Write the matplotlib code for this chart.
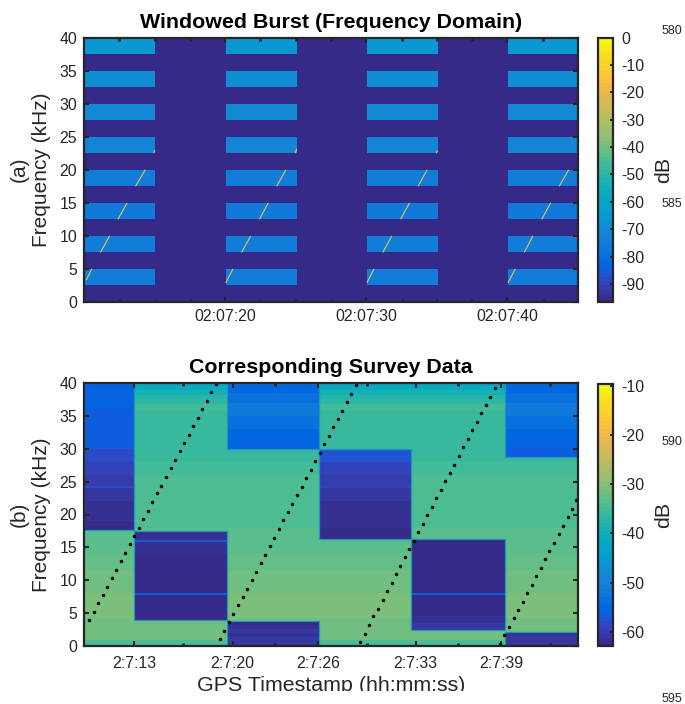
#!/usr/bin/env python3
"""
Windowed burst spectrogram and the matching survey data, two panels on one page
"""

import matplotlib
matplotlib.use('Agg')
import matplotlib.pyplot as plt
from matplotlib.colors import ListedColormap, Normalize
from matplotlib.cm import ScalarMappable
from matplotlib.patches import Rectangle
from matplotlib.ticker import FixedLocator, NullFormatter

plt.rcParams['font.family'] = ['Liberation Sans', 'DejaVu Sans']
plt.rcParams['axes.unicode_minus'] = False

# parula
parula_rgb = [
    [0.2081, 0.1663, 0.5292], [0.2116, 0.1898, 0.5777], [0.2123, 0.2138, 0.6270], [0.2081, 0.2386, 0.6771],
    [0.1959, 0.2645, 0.7279], [0.1707, 0.2919, 0.7792], [0.1253, 0.3242, 0.8303], [0.0591, 0.3598, 0.8683],
    [0.0117, 0.3875, 0.8820], [0.0060, 0.4086, 0.8828], [0.0165, 0.4266, 0.8786], [0.0329, 0.4430, 0.8720],
    [0.0498, 0.4586, 0.8641], [0.0629, 0.4737, 0.8554], [0.0723, 0.4887, 0.8467], [0.0779, 0.5040, 0.8384],
    [0.0793, 0.5200, 0.8312], [0.0749, 0.5375, 0.8263], [0.0641, 0.5570, 0.8240], [0.0488, 0.5772, 0.8228],
    [0.0343, 0.5966, 0.8199], [0.0265, 0.6137, 0.8135], [0.0239, 0.6287, 0.8038], [0.0231, 0.6418, 0.7913],
    [0.0228, 0.6535, 0.7768], [0.0267, 0.6642, 0.7607], [0.0384, 0.6743, 0.7436], [0.0590, 0.6838, 0.7254],
    [0.0843, 0.6928, 0.7062], [0.1133, 0.7015, 0.6859], [0.1453, 0.7098, 0.6646], [0.1801, 0.7177, 0.6424],
    [0.2178, 0.7250, 0.6193], [0.2586, 0.7317, 0.5954], [0.3022, 0.7376, 0.5712], [0.3482, 0.7424, 0.5473],
    [0.3953, 0.7459, 0.5244], [0.4420, 0.7481, 0.5033], [0.4871, 0.7491, 0.4840], [0.5300, 0.7491, 0.4661],
    [0.5709, 0.7485, 0.4494], [0.6099, 0.7473, 0.4337], [0.6473, 0.7456, 0.4188], [0.6834, 0.7435, 0.4044],
    [0.7184, 0.7411, 0.3905], [0.7525, 0.7384, 0.3768], [0.7858, 0.7356, 0.3633], [0.8185, 0.7327, 0.3498],
    [0.8507, 0.7299, 0.3360], [0.8824, 0.7274, 0.3217], [0.9139, 0.7258, 0.3063], [0.9450, 0.7261, 0.2886],
    [0.9739, 0.7314, 0.2666], [0.9938, 0.7455, 0.2403], [0.9990, 0.7653, 0.2164], [0.9955, 0.7861, 0.1967],
    [0.9880, 0.8066, 0.1794], [0.9789, 0.8271, 0.1633], [0.9697, 0.8481, 0.1475], [0.9626, 0.8705, 0.1309],
    [0.9589, 0.8949, 0.1132], [0.9598, 0.9218, 0.0948], [0.9661, 0.9514, 0.0755], [0.9763, 0.9831, 0.0538],
]
parula = ListedColormap(parula_rgb)

# ---- panel (a), times are seconds after 02:07:00 ----
burst_start = [10.0, 20.04, 30.04, 40.04]
burst_end = [15.05, 25.07, 35.07, 45.0]
band_low = [2.5, 7.5, 12.5, 17.5, 22.5, 27.5, 32.5, 37.5]
band_high = [5.0, 10.0, 15.0, 20.0, 25.0, 30.0, 35.0, 39.7]
band_db = [-74, -74, -75.5, -75, -72, -70, -68, -66]
floor_db_a = -96.6

# chirp streaks inside the bands
streak_t0 = [10.16, 11.17, 12.40, 13.65, 14.95,
             20.04, 21.17, 22.43, 23.65, 24.98,
             30.04, 31.17, 32.43, 33.67, 34.95,
             40.04, 41.19, 42.43, 43.67]
streak_t1 = [10.55, 11.81, 13.06, 14.34, 15.02,
             20.55, 21.81, 23.06, 24.31, 25.07,
             30.55, 31.81, 33.06, 34.31, 35.05,
             40.56, 41.81, 43.06, 44.34]
streak_f0 = [3.3, 7.5, 12.5, 17.5, 22.5,
             2.9, 7.5, 12.5, 17.5, 22.5,
             2.9, 7.5, 12.5, 17.5, 22.5,
             2.9, 7.5, 12.5, 17.5]
streak_f1 = [5.0, 10.0, 15.0, 20.0, 23.0,
             5.0, 10.0, 15.0, 20.0, 23.2,
             5.0, 10.0, 15.0, 20.0, 22.9,
             5.0, 10.0, 15.0, 20.0]

ticks_a = [20, 30, 40]
tick_labels_a = ['02:07:20', '02:07:30', '02:07:40']
minor_ticks_a = [12.5, 15, 17.5, 22.5, 25, 27.5, 32.5, 35, 37.5, 42.5]
cbar_ticks_a = [0, -10, -20, -30, -40, -50, -60, -70, -80, -90]

# ---- panel (b) ----
time_range = [10.0, 45.0]
bg_edges = [0, 0.9, 4.2, 8, 11.5, 14.2, 18, 26, 28.2, 33, 35.8, 36.8, 37.5, 38.2, 38.9, 39.5, 40]
bg_db = [-34.5, -31.6, -30.5, -31.5, -32.5, -33.2, -33.8, -34.8, -35.5, -36, -34.6, -36.5, -37.5, -39, -41, -42.5]

# blue and dark blocks: start, end, then bin edges and levels
blue_0_t = [10.0, 13.56]
blue_0_f = [17.7, 19, 20.5, 22, 24, 24.3, 26, 28, 30, 33, 36, 38, 40]
blue_0_db = [-62.5, -62, -61.3, -60.7, -58.5, -60, -59, -58, -57, -56.5, -56, -55.5]

dark_1_t = [13.56, 20.1]
dark_1_f = [4.0, 7.8, 8.1, 14, 15.85, 16.15, 17.5]
dark_1_db = [-62.5, -56.5, -62.5, -62, -57.5, -62]

blue_2_t = [20.1, 26.68]
blue_2_f = [30, 31.5, 33, 35, 37, 38.5, 40]
blue_2_db = [-56, -55, -53.5, -52, -53, -55]

dark_2_t = [20.1, 26.68]
dark_2_f = [0, 0.7, 1.4, 2.0, 2.6, 3.2, 3.8]
dark_2_db = [-60.5, -61, -62, -61, -61.7, -62.3]

blue_3_t = [26.68, 33.2]
blue_3_f = [16.3, 18, 20, 22, 24, 24.3, 26, 28, 30]
blue_3_db = [-62.6, -62, -61.3, -60.7, -59, -60, -59, -57.3]

dark_4_t = [33.2, 39.8]
dark_4_f = [2.5, 3.5, 4.5, 7.8, 8.1, 16.2]
dark_4_db = [-61, -62, -62.5, -56.5, -62.5]

blue_5_t = [39.8, 45.0]
blue_5_f = [28.7, 30, 31.5, 33, 35, 37, 38.5, 40]
blue_5_db = [-56.5, -56, -55, -53.5, -52, -53, -55]

dark_5_t = [39.8, 45.0]
dark_5_f = [0, 0.8, 1.6, 2.2]
dark_5_db = [-60.8, -61, -61.5]

# sweep dots
dot_t_1 = [10.37, 10.69, 11.01, 11.33, 11.65, 11.97, 12.29, 12.61, 12.93, 13.25, 13.57, 13.89, 14.21, 14.53, 14.85,
           15.17, 15.49, 15.81, 16.13, 16.45, 16.77, 17.09, 17.41, 17.73, 18.05, 18.37, 18.69, 19.01, 19.33]
dot_f_1 = [3.9, 5.2, 6.5, 7.8, 9.0, 10.3, 11.6, 12.9, 14.2, 15.5, 16.7, 18.0, 19.3, 20.6, 21.9,
           23.2, 24.4, 25.7, 27.0, 28.3, 29.6, 30.9, 32.1, 33.4, 34.7, 36.0, 37.3, 38.6, 39.8]
dot_t_2 = [19.63, 19.95, 20.27, 20.59, 20.91, 21.24, 21.56, 21.88, 22.20, 22.52, 22.84, 23.16, 23.48, 23.80, 24.12, 24.45,
           24.77, 25.09, 25.41, 25.73, 26.05, 26.37, 26.69, 27.01, 27.33, 27.66, 27.98, 28.30, 28.62, 28.94, 29.26]
dot_f_2 = [1.0, 2.3, 3.6, 4.9, 6.2, 7.5, 8.7, 10.0, 11.3, 12.6, 13.9, 15.2, 16.5, 17.8, 19.1, 20.4,
           21.6, 22.9, 24.2, 25.5, 26.8, 28.1, 29.4, 30.7, 32.0, 33.3, 34.5, 35.8, 37.1, 38.4, 39.7]
dot_t_3 = [29.56, 29.88, 30.20, 30.51, 30.83, 31.15, 31.47, 31.79, 32.10, 32.42, 32.74, 33.06, 33.38, 33.69, 34.01, 34.33,
           34.65, 34.97, 35.28, 35.60, 35.92, 36.24, 36.56, 36.87, 37.19, 37.51, 37.83, 38.15, 38.46, 38.78, 39.10]
dot_f_3 = [0.6, 1.9, 3.2, 4.5, 5.7, 7.0, 8.3, 9.6, 10.9, 12.2, 13.5, 14.8, 16.0, 17.3, 18.6, 19.9,
           21.2, 22.5, 23.8, 25.1, 26.3, 27.6, 28.9, 30.2, 31.5, 32.8, 34.1, 35.4, 36.6, 37.9, 39.2]
dot_t_4 = [39.49, 39.78, 40.12, 40.44, 40.76, 41.08, 41.39, 41.71, 42.03, 42.35, 42.67, 42.98, 43.30, 43.62, 43.94, 44.26, 44.57, 44.89]
dot_f_4 = [0.3, 1.6, 2.9, 4.2, 5.4, 6.7, 8.0, 9.3, 10.6, 11.9, 13.2, 14.4, 15.7, 17.0, 18.3, 19.6, 20.9, 22.2]

ticks_b = [13.56, 20.53, 26.56, 33.5, 39.55]
tick_labels_b = ['2:7:13', '2:7:20', '2:7:26', '2:7:33', '2:7:39']
minor_ticks_b = [17.03, 23.5, 30.03, 36.5, 43.0]
cbar_ticks_b = [-10, -20, -30, -40, -50, -60]
clim_b = (-62.9, -9.6)

freq_ticks = [0, 5, 10, 15, 20, 25, 30, 35, 40]

page_numbers = ['580', '585', '590', '595']
page_number_y = [30.7, 204, 441.7, 699]

W, H = 685, 704
dark = '#262626'


def px_axes(x0, y0, x1, y1):
    # rectangle given in image pixels, y down
    return fig.add_axes([x0 / W, 1 - y1 / H, (x1 - x0) / W, (y1 - y0) / H])


def block(ax, t, f, db, norm, outline=None):
    ax.pcolormesh(t, f, [[v] for v in db], cmap=parula, norm=norm, shading='flat')
    if outline:
        ax.add_patch(Rectangle((t[0], f[0]), t[1] - t[0], f[-1] - f[0], fill=False,
                               edgecolor=outline, linewidth=0.9, zorder=2))


def style_axes(ax, majors, labels, minors, xpad):
    ax.set_xlim(*time_range)
    ax.set_ylim(0, 40)
    ax.set_xticks(majors)
    ax.set_xticklabels(labels)
    ax.xaxis.set_minor_locator(FixedLocator(minors))
    ax.xaxis.set_minor_formatter(NullFormatter())
    ax.set_yticks(freq_ticks)
    ax.tick_params(axis='both', which='major', direction='in', top=True, right=True, length=3.8, width=1.5,
                   labelsize=11.4, labelcolor=dark, color=dark, pad=5)
    ax.tick_params(axis='x', which='major', pad=xpad)
    ax.tick_params(axis='x', which='minor', direction='in', top=True, length=2.2, width=2.0, color=dark)
    for sp in ax.spines.values():
        sp.set_linewidth(1.6)
        sp.set_color(dark)
        sp.set_zorder(5)
    ax.set_axisbelow(False)


def add_colorbar(cax, norm, ticks):
    cb = fig.colorbar(ScalarMappable(norm=norm, cmap=parula), cax=cax, ticks=ticks)
    cb.outline.set_linewidth(1.6)
    cb.outline.set_edgecolor(dark)
    cb.ax.tick_params(direction='in', length=2.5, width=1.4, labelsize=11.4, labelcolor=dark, color=dark, pad=6)
    cb.set_label('dB', fontsize=15.4, color=dark, labelpad=7)
    return cb


fig = plt.figure(figsize=(W / 100, H / 100), dpi=100)

# panel (a)
ax1 = px_axes(84, 37.5, 578, 302)
norm_a = Normalize(floor_db_a, 0)
ax1.pcolormesh(time_range, [0, 40], [[floor_db_a]], cmap=parula, norm=norm_a, shading='flat')
for t0, t1 in zip(burst_start, burst_end):
    for lo, hi, db in zip(band_low, band_high, band_db):
        block(ax1, [t0, t1], [lo, hi], [db], norm_a)
for t0, t1, f0, f1 in zip(streak_t0, streak_t1, streak_f0, streak_f1):
    ax1.plot([t0, t1], [f0, f1], color='#e2c655', linewidth=0.8, solid_capstyle='butt', zorder=3)
style_axes(ax1, ticks_a, tick_labels_a, minor_ticks_a, 5)
ax1.set_title('Windowed Burst (Frequency Domain)', fontsize=15.4, fontweight='bold', color='black', pad=7)
ax1.set_ylabel('(a)\nFrequency (kHz)', fontsize=15, color=dark, labelpad=6, linespacing=1.2)
add_colorbar(px_axes(598, 37.5, 613, 302), norm_a, cbar_ticks_a)

# panel (b)
ax2 = px_axes(84, 383, 578, 646)
norm_b = Normalize(*clim_b)
block(ax2, time_range, bg_edges, bg_db, norm_b)
edge_blue = '#1e96be'
block(ax2, blue_0_t, blue_0_f, blue_0_db, norm_b, edge_blue)
block(ax2, dark_1_t, dark_1_f, dark_1_db, norm_b, edge_blue)
block(ax2, blue_2_t, blue_2_f, blue_2_db, norm_b, edge_blue)
block(ax2, dark_2_t, dark_2_f, dark_2_db, norm_b, edge_blue)
block(ax2, blue_3_t, blue_3_f, blue_3_db, norm_b, edge_blue)
block(ax2, dark_4_t, dark_4_f, dark_4_db, norm_b, edge_blue)
block(ax2, blue_5_t, blue_5_f, blue_5_db, norm_b, edge_blue)
block(ax2, dark_5_t, dark_5_f, dark_5_db, norm_b, edge_blue)
for dt, df in [(dot_t_1, dot_f_1), (dot_t_2, dot_f_2), (dot_t_3, dot_f_3), (dot_t_4, dot_f_4)]:
    ax2.plot(dt, df, linestyle='none', marker='o', markersize=2.5, color='black', markeredgewidth=0, zorder=4)
style_axes(ax2, ticks_b, tick_labels_b, minor_ticks_b, 7)
ax2.set_title('Corresponding Survey Data', fontsize=15.4, fontweight='bold', color='black', pad=7)
ax2.set_ylabel('(b)\nFrequency (kHz)', fontsize=15, color=dark, labelpad=6, linespacing=1.2)
ax2.set_xlabel('GPS Timestamp (hh:mm:ss)', fontsize=15.4, color=dark, labelpad=3.5)
add_colorbar(px_axes(598, 384, 613, 646), norm_b, cbar_ticks_b)

# the x label is cut off just under its baseline in the original
fig.add_artist(Rectangle((190 / W, 1 - 698 / H), 290 / W, 7 / H, transform=fig.transFigure,
                         facecolor='white', edgecolor='none', zorder=10))

# stray manuscript line numbers at the right edge
for label, y in zip(page_numbers, page_number_y):
    fig.text(671.7 / W, 1 - y / H, label, fontsize=9, color=dark, ha='center', va='center')

fig.savefig('out.png', dpi=100, facecolor='white')
